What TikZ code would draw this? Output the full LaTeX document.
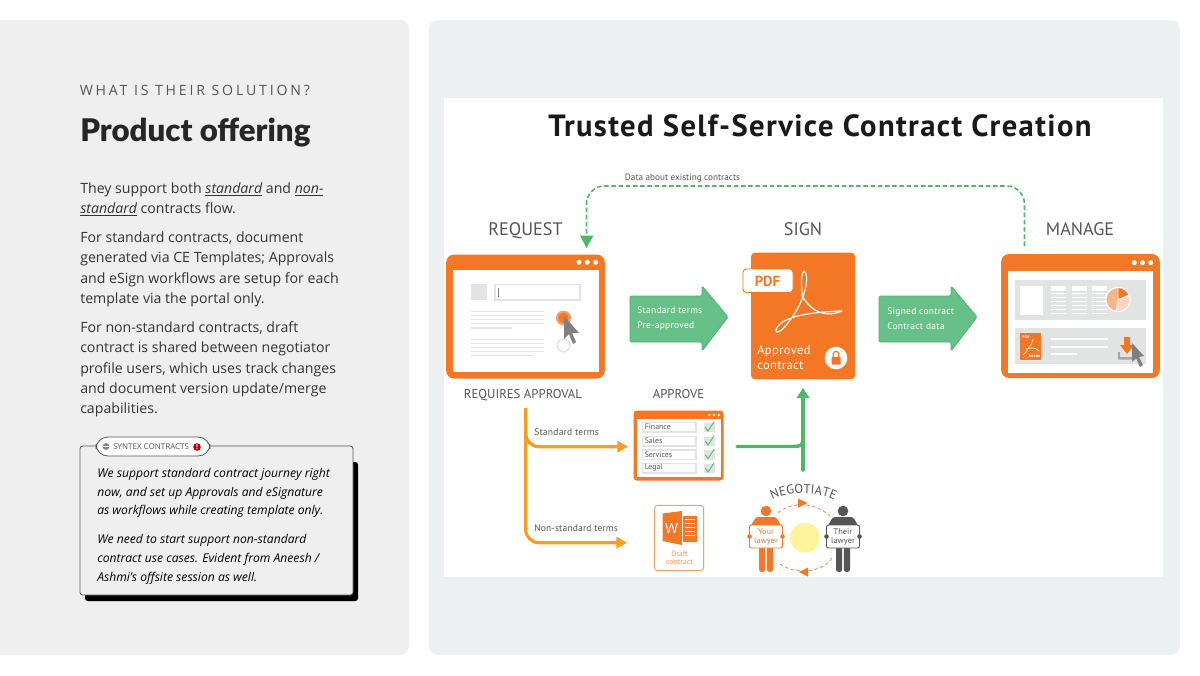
\documentclass[tikz,border=0pt]{standalone}
\usepackage{fontspec}
\setmainfont{Open Sans}
\newfontfamily\dinfont{PT Sans}
\newfontfamily\headfont{Lato Black}
\newfontfamily\titlefont[LetterSpace=4.5]{PT Sans Bold}
\usetikzlibrary{arrows.meta,decorations.text,calc}
\definecolor{panel}{HTML}{EFEFEF}
\definecolor{panelb}{HTML}{EDF0F0}
\definecolor{ora}{HTML}{F47726}
\definecolor{yel}{HTML}{F99D1E}
\definecolor{grn}{HTML}{4DB868}
\definecolor{grnf}{HTML}{66C088}
\definecolor{gry}{HTML}{E2E4E3}
\definecolor{txt}{HTML}{333333}
\definecolor{dgr}{HTML}{555555}
\tikzset{
 x=0.75pt,y=-0.75pt,
 body/.style={anchor=base west,inner sep=0pt,font=\fontsize{10.6pt}{13pt}\selectfont,text=txt},
 note/.style={anchor=base west,inner sep=0pt,font=\fontsize{9.1pt}{12pt}\selectfont\itshape,text=black},
 din/.style={inner sep=0pt,font=\dinfont,text=dgr},
 bigdin/.style={din,anchor=base,font=\dinfont\fontsize{13.6pt}{15pt}\selectfont},
 middin/.style={din,anchor=base,font=\dinfont\fontsize{9.6pt}{11pt}\selectfont},
 arrowtext/.style={din,anchor=base west,text=white,font=\dinfont\fontsize{7.1pt}{8pt}\selectfont\addfontfeature{LetterSpace=3}},
 yarrow/.style={draw=yel,line width=2.4pt,rounded corners=10pt,-{Triangle[length=8pt,width=8.5pt]}},
 garrow/.style={draw=grn,line width=2.6pt},
 bluk/.style={fill=grnf,draw=grn,line width=0.7pt,rounded corners=1pt},
 winframe/.style={fill=ora,rounded corners=6pt,draw=none},
}
\newcommand{\threedots}[4]{\fill[white] (#1,#2) circle (#3) ({#1+#4},#2) circle (#3) ({#1+2*#4},#2) circle (#3);}
\begin{document}
\begin{tikzpicture}
\useasboundingbox (0,0) rectangle (1200,675);
\fill[white] (0,0) rectangle (1200,675);
\fill[panel,rounded corners=7pt] (-10,20) rectangle (409,655);
\fill[panelb,rounded corners=7pt] (429,20) rectangle (1180,655);
% left text
\node[anchor=base west,inner sep=0pt,font=\fontsize{10.6pt}{13pt}\selectfont,text=dgr] (kick) at (79.5,95.5) {\addfontfeature{LetterSpace=20}WHAT IS THEIR SOLUTION?};
\node[anchor=base west,inner sep=0pt,font=\headfont\fontsize{23.4pt}{26pt}\selectfont,text=black!85] (head) at (80,141) {Product offering};
\node[body] (t1) at (80,193) {They support both \emph{\underline{standard}} and \emph{\underline{non-}}};
\node[body] (t2) at (80,213) {\emph{\underline{standard}} contracts flow.};
\node[body] (t3) at (80,242) {For standard contracts, document};
\node[body] (t4) at (80,262) {generated via CE Templates; Approvals};
\node[body] (t5) at (80,283) {and eSign workflows are setup for each};
\node[body] (t6) at (80,303) {template via the portal only.};
\node[body] (t7) at (80,332) {For non-standard contracts, draft};
\node[body] (t8) at (80,352) {contract is shared between negotiator};
\node[body] (t9) at (80,373) {profile users, which uses track changes};
\node[body] (t10) at (80,393) {and document version update/merge};
\node[body] (t11) at (80,413) {capabilities.};
% callout
\fill[black,rounded corners=2pt] (85,462) rectangle (358,601);
\draw[fill=panel,draw=dgr,line width=0.6pt,rounded corners=2pt] (80,446) rectangle (353,595);
\draw[fill=white,draw=dgr,line width=0.6pt,rounded corners=9pt] (96,437) rectangle (210,456);
\node[anchor=base west,inner sep=0pt,font=\fontsize{6pt}{7pt}\selectfont,text=dgr] (tag) at (113,449.5) {SYNTEX CONTRACTS};
\fill[gray] (106,446.5) circle (3.4);
\fill[white] (103,446) rectangle (109,446.6);
\fill[red!70!black] (197,447) circle (3.8);
\node[anchor=center,inner sep=0pt,text=white,font=\fontsize{5pt}{5pt}\selectfont\bfseries] (bang) at (197,447) {!};
\node[note] (n1) at (97,477) {We support standard contract journey right};
\node[note] (n2) at (97,496) {now, and set up Approvals and eSignature};
\node[note] (n3) at (97,514) {as workflows while creating template only.};
\node[note] (n4) at (97,543) {We need to start support non-standard};
\node[note] (n5) at (97,562) {contract use cases. Evident from Aneesh /};
\node[note] (n6) at (97,581) {Ashmi's offsite session as well.};
% diagram canvas
\fill[white] (444,98) rectangle (1163,577);
\node[inner sep=0pt,anchor=base,text=black!90,font=\titlefont\fontsize{23pt}{28pt}\selectfont] (title) at (820,136) {Trusted Self-Service Contract Creation};
\node[din,anchor=base,font=\dinfont\fontsize{6.9pt}{9pt}\selectfont] (dlabel) at (682.5,180) {Data about existing contracts};
\node[bigdin] (lreq) at (525.5,235.5) {REQUEST};
\node[bigdin] (lsign) at (803,235.5) {SIGN};
\node[bigdin] (lman) at (1080,235.5) {MANAGE};
\node[middin] (lra) at (523,398) {REQUIRES APPROVAL};
\node[middin] (lapp) at (678.5,398) {APPROVE};
% request window
\node[winframe,minimum width=119pt,minimum height=93pt,inner sep=0pt] (req) at (525.5,316.5) {};
\fill[white] (452.5,269.5) rectangle (598.5,372);
\threedots{579}{262.3}{2.5}{8.3}
\fill[gry] (471,284) rectangle (487,300);
\draw[gry,fill=white,line width=1pt] (495,284.5) rectangle (580,300);
\draw[gray,line width=0.6pt] (498,288) -- (498,297);
\foreach \y in {312,316,320,324} \fill[gry] (471,\y-1) rectangle (543.5,\y+.3);
\fill[gry] (471,327) rectangle (512,328.5);
\foreach \y in {340,344,348,352} \fill[gry] (471,\y-1) rectangle (543.5,\y+.3);
\fill[gry] (471,354.5) rectangle (531.5,356);
\fill[ora!70] (563.5,318) circle (7.5);
\fill[ora] (563.5,318) circle (5.3);
\draw[gry,fill=white,line width=1.1pt] (563.5,345.5) circle (6.2);
\fill[gray] (564,316) -- (564,339) -- (569,334) -- (573,344) -- (576,342) -- (572,333) -- (579,333) -- cycle;
% green arrow 1
\fill[bluk] (630,296) -- (702,296) -- (702,286) -- (728,317) -- (702,351) -- (702,342) -- (630,342) -- cycle;
\node[arrowtext] (ga1a) at (637,313.5) {Standard terms};
\node[arrowtext] (ga1b) at (637,328.5) {Pre-approved};
% sign doc
\node[fill=ora,rounded corners=3pt,minimum width=78pt,minimum height=95pt,inner sep=0pt] (sign) at (803,316) {};
\draw[ora,fill=white,line width=.7pt,rounded corners=2.5pt] (743,269) rectangle (793,292.5);
\node[anchor=center,inner sep=0pt,text=ora,font=\dinfont\fontsize{11pt}{14pt}\selectfont\bfseries] (pdf) at (767.5,281) {PDF};
\draw[white,line width=.9pt,line join=round] (804,271) .. controls (810,274) and (806,300) .. (790,320) .. controls (780,335) and (772,335) .. (778,326) .. controls (785,317) and (808,312) .. (842,311) .. controls (825,318) and (812,312) .. (802,296) .. controls (802,287) and (800,276) .. cycle;
\node[inner sep=0pt,anchor=base west,text=white,font=\dinfont\fontsize{9.4pt}{11pt}\selectfont\addfontfeature{LetterSpace=3}] (ap1) at (757,354) {Approved};
\node[inner sep=0pt,anchor=base west,text=white,font=\dinfont\fontsize{9.4pt}{11pt}\selectfont\addfontfeature{LetterSpace=3}] (ap2) at (757,369) {contract};
\fill[white] (836,358) circle (11.3);
\fill[ora,rounded corners=.5pt] (831.5,357) rectangle (840.5,364.5);
\draw[ora,line width=.9pt] (833.3,357) -- (833.3,354) arc (180:360:2.7) -- (838.7,357);
% green arrow 2
\fill[bluk] (879,296) -- (951,296) -- (951,286) -- (977,317) -- (951,351) -- (951,342) -- (879,342) -- cycle;
\node[arrowtext] (ga2a) at (887,314) {Signed contract};
\node[arrowtext] (ga2b) at (887,329) {Contract data};
% manage window
\node[winframe,minimum width=119pt,minimum height=93pt,inner sep=0pt] (man) at (1080.5,316) {};
\fill[white] (1008,271) rectangle (1153,372.5);
\threedots{1134.3}{262.7}{2.5}{8.2}
\fill[gry] (1015,280) rectangle (1146,320);
\fill[white] (1020,286) rectangle (1043,314.5);
\foreach \x in {1051,1072,1092} {
 \fill[white] (\x,286) rectangle (\x+15,291);
 \foreach \y in {293,297,301,305,309,313} \fill[white] (\x,\y) rectangle (\x+15,\y+1.2);
}
\fill[white] (1118,299.5) circle (12.8);
\fill[ora!55] (1118,299.5) -- ++(-90:11.4) arc (-90:-260:11.4) -- cycle;
\fill[ora!30] (1118,299.5) -- ++(100:11.4) arc (100:-15:11.4) -- cycle;
\fill[ora] (1118,299.5) -- ++(-25:11.4) arc (-25:-90:11.4) -- cycle;
\draw[white,line width=.6pt] (1118,299.5) -- ++(-90:11.4) (1118,299.5) -- ++(-20:11.4) (1118,299.5) -- ++(100:11.4);
\fill[gry] (1015,328) rectangle (1146,364);
\fill[ora] (1020,333) rectangle (1041,360);
\node[inner sep=0pt,text=white,font=\fontsize{2.8pt}{3pt}\selectfont\bfseries,anchor=center] (mp) at (1026,337.5) {PDF};
\node[inner sep=0pt,text=white,font=\fontsize{2.8pt}{3pt}\selectfont\bfseries,anchor=center] (ma) at (1034.5,356) {Adobe};
\draw[white,line width=.4pt] (1033,339) .. controls (1032,345) and (1026,352) .. (1023,355) (1026,349) .. controls (1032,347) and (1036,348) .. (1039,351);
\fill[white] (1051,338) rectangle (1108,340);
\fill[white] (1051,345.5) rectangle (1108,347.5);
\fill[white] (1051,353) rectangle (1077,355);
\fill[gray!70] (1118,352) -- (1120,352) -- (1120,357) -- (1136,357) -- (1136,359.5) -- (1118,359.5) -- cycle;
\fill[ora] (1124,337) -- (1130,337) -- (1130,345) -- (1134,345) -- (1127,354) -- (1120,345) -- (1124,345) -- cycle;
\fill[gray] (1132,343) -- (1132,362) -- (1136,358) -- (1140,367) -- (1143,365) -- (1139,357) -- (1144,356) -- cycle;
% dashed feedback
\coordinate (fstart) at (1024.5,246);
\coordinate (fend) at (586.5,236);
\draw[grn,line width=1.2pt,dash pattern=on 3.4pt off 2pt,rounded corners=13.5pt] (fstart) -- (1024.5,186) -- (586.5,186) -- (fend);
\fill[grn] (580,235.5) -- (593.5,235.5) -- (586.5,248) -- cycle;
% branch arrows
\coordinate (ybr) at (525.7,408);
\coordinate (ymid) at (525.7,420);
\coordinate (yt1) at (628,446.7);
\coordinate (yt2) at (627,542.7);
\draw[yarrow] (ybr) -- (525.7,542.7) -- (yt2);
\draw[yarrow] (ymid) -- (525.7,446.7) -- (yt1);
\node[din,anchor=base west,font=\dinfont\fontsize{7.2pt}{8pt}\selectfont\addfontfeature{LetterSpace=2}] (ls) at (534,435) {Standard terms};
\node[din,anchor=base west,font=\dinfont\fontsize{7.1pt}{8pt}\selectfont\addfontfeature{LetterSpace=2}] (lns) at (534,531) {Non-standard terms};
% approve window
\node[fill=ora,rounded corners=2.5pt,minimum width=67.5pt,minimum height=52.5pt,inner sep=0pt] (appr) at (678.5,445.5) {};
\fill[white] (637,419) rectangle (720.5,477);
\threedots{709.3}{415}{1.3}{4.7}
\foreach \y/\t in {427/Finance,441/Sales,454.5/Services,468/Legal}{
 \draw[gry,fill=white,line width=.8pt] (642.5,\y-4.5) rectangle (696,\y+5);
 \fill[gry] (704,\y-4.5) rectangle (715,\y+5);
 \node[din,anchor=west,font=\dinfont\fontsize{5.9pt}{7pt}\selectfont] (row\t) at (644.5,\y) {\t};
 \draw[grn,line width=.7pt,line cap=round] (705.5,\y+.5) -- (708,\y+4) -- (714,\y-5);
}
% green join
\coordinate (gj1) at (737,446.5);
\coordinate (gj2) at (803,470);
\draw[garrow,line cap=round] (gj1) -- (793,446.5) .. controls (800,446.5) and (803,445) .. (803,440);
\draw[garrow,line cap=round] (gj2) -- (803,398);
\fill[grn] (796.5,398) -- (809.5,398) -- (803,388) -- cycle;
% draft
\node[draw=ora!70,fill=white,line width=.7pt,rounded corners=2.5pt,minimum width=37pt,minimum height=49pt,inner sep=0pt] (draft) at (679,538) {};
\fill[ora] (662.5,513.5) -- (682,511) -- (682,545) -- (662.5,541) -- cycle;
\node[inner sep=0pt,text=white,font=\fontsize{10.5pt}{11pt}\selectfont,anchor=center] (w) at (671.5,528) {W};
\fill[ora] (683,515.5) rectangle (697,541.5);
\foreach \y in {519,523,527,531,535} \fill[white] (685,\y) rectangle (695,\y+1);
\node[inner sep=0pt,text=ora!80,font=\dinfont\fontsize{5.8pt}{6pt}\selectfont,anchor=center] (d1) at (679.5,553.5) {Draft};
\node[inner sep=0pt,text=ora!80,font=\dinfont\fontsize{5.8pt}{6pt}\selectfont,anchor=center] (d2) at (679.5,562) {contract};
% negotiate
\path[postaction={decorate,decoration={text along path,text align=center,text={|\dinfont\fontsize{9.6pt}{10pt}\selectfont\color{dgr}|NEGOTIATE}}}] (770,501) .. controls (785,491) and (820,491) .. (837,501);
\fill[yellow!35!white!95!orange] (805,537.7) circle (15);
% people
\foreach \c/\x/\a/\b in {ora/766/Your/lawyer,dgr/843/Their/lawyer}{
 \fill[\c] (\x,511) circle (5.3);
 \fill[\c] (\x-17,526) to[out=-70,in=180] (\x-8,517) -- (\x+8,517) to[out=0,in=-110] (\x+17,526) -- cycle;
 \fill[\c,rounded corners=2pt] (\x-7,545) rectangle (\x-.8,572);
 \fill[\c,rounded corners=2pt] (\x+.8,545) rectangle (\x+7,572);
 \draw[\c,fill=white,line width=.7pt,rounded corners=1.5pt] (\x-16.5,525) rectangle (\x+16.5,548);
 \fill[\c] (\x-16.5,536.5) circle (2.3) (\x+16.5,536.5) circle (2.3);
 \node[inner sep=0pt,text=\c,font=\dinfont\fontsize{6.3pt}{6pt}\selectfont,anchor=center] (p\a) at (\x,532) {\a};
 \node[inner sep=0pt,text=\c,font=\dinfont\fontsize{6.3pt}{6pt}\selectfont,anchor=center] (q\a) at (\x,541.5) {\b};
}
\draw[ora!80,line width=.7pt,dash pattern=on 2.5pt off 2pt] (778,512.7) .. controls (790,503) and (812,500) .. (830,516);
\draw[ora!80,line width=.7pt,dash pattern=on 2.5pt off 2pt] (831.7,558) .. controls (825,570) and (800,577) .. (780,564);
\fill[ora] (798,498.5) -- (807.5,503) -- (798,507.5) -- cycle;
\fill[ora] (808,567.5) -- (799,572) -- (808,576.5) -- cycle;
\end{tikzpicture}
\end{document}
